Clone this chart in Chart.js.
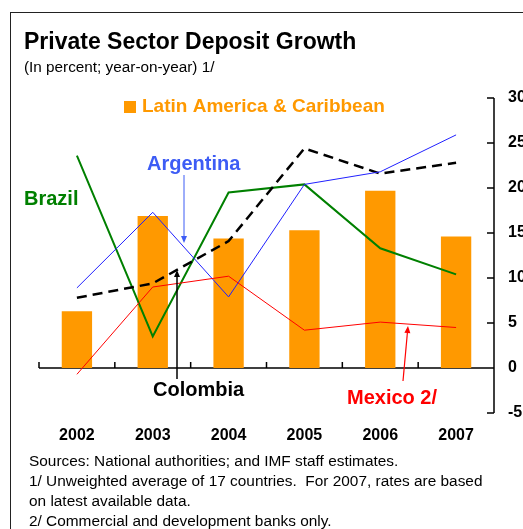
<!DOCTYPE html>
<html>
<head>
<meta charset="utf-8">
<script src="https://cdn.jsdelivr.net/npm/chart.js@4.4.1/dist/chart.umd.min.js"></script>
<style>
  body { margin: 0; background: #fff; }
  #wrap { position: relative; width: 523px; height: 529px; overflow: hidden; font-family: Arial, 'Liberation Sans', sans-serif; color: #000; }
  #frame { position: absolute; left: 10px; top: 12px; width: 700px; height: 700px; border-left: 1.5px solid #222; border-top: 1.5px solid #222; }
  #chart { position: absolute; left: 0; top: 0; }
  .txt { position: absolute; white-space: nowrap; }
  #title { left: 24px; top: 30px; font-size: 23px; line-height: 23px; font-weight: bold; }
  #sub { left: 24px; top: 59px; font-size: 15.3px; line-height: 16px; }
  .note { left: 29px; font-size: 15.4px; line-height: 16px; }
</style>
</head>
<body>
<div id="wrap">
  <div id="frame"></div>
  <canvas id="chart" width="523" height="529"></canvas>
  <div class="txt" id="title">Private Sector Deposit Growth</div>
  <div class="txt" id="sub">(In percent; year-on-year) 1/</div>
  <div class="txt note" style="top:453px">Sources: National authorities; and IMF staff estimates.</div>
  <div class="txt note" style="top:473px">1/ Unweighted average of 17 countries.&nbsp; For 2007, rates are based</div>
  <div class="txt note" style="top:493px">on latest available data.</div>
  <div class="txt note" style="top:513px">2/ Commercial and development banks only.</div>
</div>
<script>
const years = ['2002', '2003', '2004', '2005', '2006', '2007'];
const latinAmerica = [6.3, 16.9, 14.4, 15.3, 19.7, 14.6];
const brazil = [23.6, 3.5, 19.5, 20.4, 13.3, 10.4];
const argentina = [8.9, 17.3, 7.9, 20.4, 21.8, 25.9];
const colombia = [7.8, 9.4, 14.1, 24.4, 21.6, 22.8];
const mexico = [-0.7, 9.0, 10.2, 4.2, 5.1, 4.5];
const yMin = -5, yMax = 30, yStep = 5;

const FONT = "Arial, 'Liberation Sans', sans-serif";

function arrow(ctx, x1, y1, x2, y2, color, w) {
  const a = Math.atan2(y2 - y1, x2 - x1);
  const hl = 7, hw = 3;
  const bx = x2 - hl * Math.cos(a), by = y2 - hl * Math.sin(a);
  ctx.save();
  ctx.strokeStyle = color;
  ctx.fillStyle = color;
  ctx.lineWidth = w;
  ctx.beginPath();
  ctx.moveTo(x1, y1);
  ctx.lineTo(bx, by);
  ctx.stroke();
  ctx.beginPath();
  ctx.moveTo(x2, y2);
  ctx.lineTo(bx + hw * Math.sin(a), by - hw * Math.cos(a));
  ctx.lineTo(bx - hw * Math.sin(a), by + hw * Math.cos(a));
  ctx.closePath();
  ctx.fill();
  ctx.restore();
}

// zero line with category ticks, and the right-hand axis with inward ticks
const axesPlugin = {
  id: 'axes',
  beforeDatasetsDraw(chart) {
    const { ctx, chartArea: a, scales: { y } } = chart;
    const y0 = y.getPixelForValue(0);
    const step = (a.right - a.left) / years.length;
    ctx.save();
    ctx.strokeStyle = '#000';
    ctx.lineWidth = 1.5;
    ctx.beginPath();
    ctx.moveTo(a.left, y0);
    ctx.lineTo(a.right, y0);
    for (let i = 0; i < years.length; i++) {
      const px = a.left + i * step;
      ctx.moveTo(px, y0);
      ctx.lineTo(px, y0 - 6);
    }
    ctx.moveTo(a.right, a.top);
    ctx.lineTo(a.right, a.bottom);
    for (let v = yMin; v <= yMax; v += yStep) {
      const py = y.getPixelForValue(v);
      ctx.moveTo(a.right, py);
      ctx.lineTo(a.right - 7, py);
    }
    ctx.stroke();
    ctx.restore();
  },
  afterDatasetsDraw(chart) {
    const ctx = chart.ctx;
    ctx.save();
    ctx.textBaseline = 'middle';
    ctx.textAlign = 'left';
    // legend swatch
    ctx.fillStyle = '#ff9900';
    ctx.fillRect(124, 101, 12, 12);
    ctx.font = 'bold 19px ' + FONT;
    ctx.fillText('Latin America & Caribbean', 142, 107);
    ctx.font = 'bold 20px ' + FONT;
    ctx.fillStyle = '#3d5cf5';
    ctx.fillText('Argentina', 147, 164);
    ctx.fillStyle = '#008000';
    ctx.fillText('Brazil', 24, 199);
    ctx.fillStyle = '#000';
    ctx.fillText('Colombia', 153, 390);
    ctx.fillStyle = '#ff0000';
    ctx.fillText('Mexico 2/', 347, 398);
    ctx.restore();
    arrow(ctx, 184, 175, 184, 243, '#3d5cf5', 1);
    arrow(ctx, 177, 379, 177, 270, '#000', 1.5);
    arrow(ctx, 403, 381, 408, 326, '#ff0000', 1.2);
  }
};

new Chart(document.getElementById('chart').getContext('2d'), {
  type: 'bar',
  data: {
    labels: years,
    datasets: [
      { type: 'line', label: 'Mexico', data: mexico, borderColor: '#ff0000', borderWidth: 1, pointRadius: 0, tension: 0, order: 1 },
      { type: 'line', label: 'Argentina', data: argentina, borderColor: '#2020ff', borderWidth: 1, pointRadius: 0, tension: 0, order: 2 },
      { type: 'line', label: 'Colombia', data: colombia, borderColor: '#000', borderWidth: 2.5, borderDash: [10, 6], pointRadius: 0, tension: 0, order: 3 },
      { type: 'line', label: 'Brazil', data: brazil, borderColor: '#008000', borderWidth: 2, pointRadius: 0, tension: 0, order: 4 },
      { label: 'Latin America & Caribbean', data: latinAmerica, backgroundColor: '#ff9900', categoryPercentage: 1, barPercentage: 0.4, order: 10 }
    ]
  },
  options: {
    responsive: false,
    animation: false,
    layout: { padding: { left: 39, top: 98, right: 0, bottom: 86 } },
    plugins: { legend: { display: false }, tooltip: { enabled: false } },
    scales: {
      x: {
        grid: { display: false, drawTicks: false },
        border: { display: false },
        ticks: { color: '#000', font: { family: FONT, size: 16, weight: 'bold' }, padding: 13 },
        afterFit: s => { s.height = 30; }
      },
      y: {
        position: 'right',
        min: yMin,
        max: yMax,
        grid: { display: false, drawTicks: false },
        border: { display: false },
        ticks: { stepSize: yStep, color: '#000', font: { family: FONT, size: 16, weight: 'bold' }, padding: 14 },
        afterFit: s => { s.width = 29; }
      }
    }
  },
  plugins: [axesPlugin]
});
</script>
</body>
</html>
